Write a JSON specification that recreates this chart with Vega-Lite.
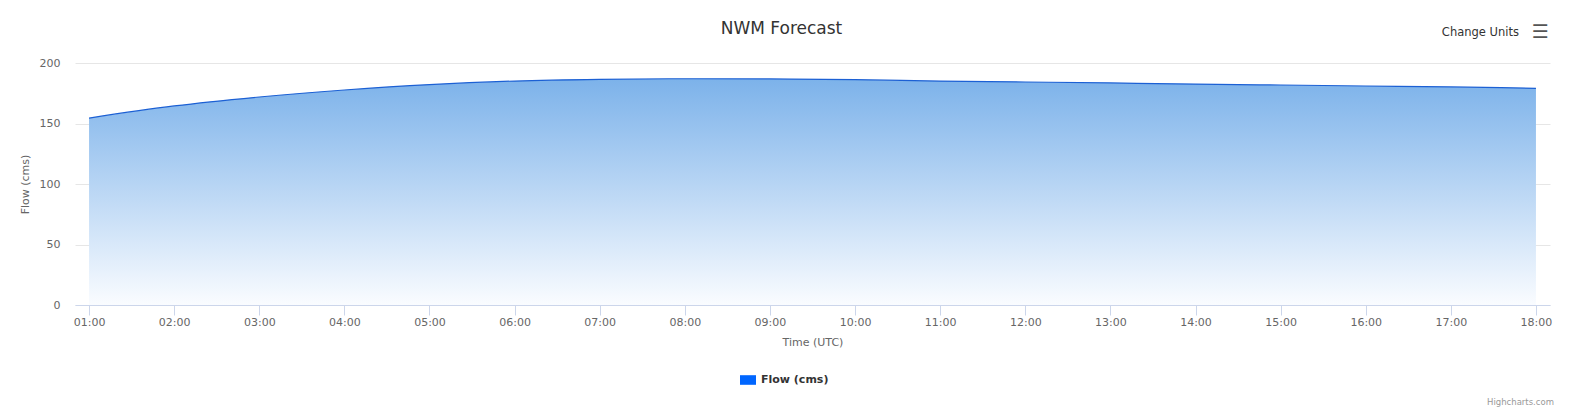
{
  "$schema": "https://vega.github.io/schema/vega-lite/v6.json",
  "autosize": "none",
  "width": 1475,
  "height": 242,
  "padding": {"left": 75, "top": 63, "right": 22, "bottom": 114},
  "background": "#ffffff",
  "title": {
    "text": "NWM Forecast",
    "font": "DejaVu Sans",
    "fontSize": 17,
    "fontWeight": "normal",
    "color": "#333333",
    "anchor": "middle",
    "dx": -31,
    "offset": -15
  },
  "config": {
    "view": {"stroke": null},
    "font": "DejaVu Sans"
  },
  "data": {
    "values": [
      {"time": "01:00", "flow": 154.5},
      {"time": "02:00", "flow": 164.5},
      {"time": "03:00", "flow": 171.9},
      {"time": "04:00", "flow": 177.7},
      {"time": "05:00", "flow": 182.2},
      {"time": "06:00", "flow": 185.1},
      {"time": "07:00", "flow": 186.5},
      {"time": "08:00", "flow": 187.0},
      {"time": "09:00", "flow": 186.8},
      {"time": "10:00", "flow": 186.2},
      {"time": "11:00", "flow": 185.1},
      {"time": "12:00", "flow": 184.3},
      {"time": "13:00", "flow": 183.5},
      {"time": "14:00", "flow": 182.6},
      {"time": "15:00", "flow": 181.8},
      {"time": "16:00", "flow": 181.0},
      {"time": "17:00", "flow": 180.2},
      {"time": "18:00", "flow": 179.1}
    ]
  },
  "encoding": {
    "x": {
      "field": "time",
      "type": "ordinal",
      "title": "Time (UTC)",
      "scale": {"type": "point", "padding": 0.165},
      "axis": {
        "labelAngle": 0,
        "grid": false,
        "domainColor": "#ccd6eb",
        "domainWidth": 1,
        "tickColor": "#ccd6eb",
        "tickSize": 10,
        "tickWidth": 1,
        "labelFont": "DejaVu Sans",
        "labelFontSize": 11,
        "labelColor": "#666666",
        "labelPadding": 1,
        "labelOverlap": false,
        "titleFont": "DejaVu Sans",
        "titleFontSize": 11,
        "titleFontWeight": "normal",
        "titleColor": "#666666",
        "titlePadding": 9
      }
    },
    "y": {
      "field": "flow",
      "type": "quantitative",
      "title": "Flow (cms)",
      "scale": {"domain": [0, 200], "nice": false},
      "axis": {
        "values": [0, 50, 100, 150, 200],
        "grid": true,
        "gridColor": "#e6e6e6",
        "gridWidth": 1,
        "domain": false,
        "ticks": false,
        "labelFont": "DejaVu Sans",
        "labelFontSize": 11,
        "labelColor": "#666666",
        "labelPadding": 15,
        "titleFont": "DejaVu Sans",
        "titleFontSize": 11,
        "titleFontWeight": "normal",
        "titleColor": "#666666",
        "titlePadding": 9
      }
    }
  },
  "layer": [
    {
      "mark": {
        "type": "area",
        "interpolate": "monotone",
        "color": {
          "gradient": "linear",
          "x1": 0, "y1": 0, "x2": 0, "y2": 1,
          "stops": [
            {"offset": 0, "color": "#7cb2ea"},
            {"offset": 1, "color": "#fafcff"}
          ]
        }
      }
    },
    {
      "mark": {"type": "line", "interpolate": "monotone", "color": "#1c60d4", "strokeWidth": 1.2}
    },
    {
      "mark": {"type": "square", "opacity": 0, "size": 1},
      "encoding": {
        "color": {
          "datum": "Flow (cms)",
          "type": "nominal",
          "scale": {"range": ["#0066ff"]},
          "legend": {
            "title": null,
            "orient": "none",
            "legendX": 665,
            "legendY": 309,
            "symbolType": "M-1,-0.6H1V0.6H-1Z",
            "symbolSize": 256,
            "symbolOpacity": 1,
            "symbolStrokeWidth": 0,
            "labelFont": "DejaVu Sans",
            "labelFontSize": 11,
            "labelFontWeight": "bold",
            "labelColor": "#333333",
            "labelOffset": 5
          }
        }
      }
    },
    {
      "transform": [{"filter": "datum.time == '18:00'"}],
      "mark": {"type": "text", "align": "right", "baseline": "middle", "font": "DejaVu Sans", "fontSize": 11.5, "color": "#333333", "dx": -17},
      "encoding": {
        "x": {"datum": "18:00", "type": "ordinal"},
        "y": {"datum": 225, "type": "quantitative"},
        "text": {"value": "Change Units"}
      }
    },
    {
      "transform": [{"filter": "datum.time == '18:00'"}],
      "mark": {"type": "text", "align": "center", "baseline": "middle", "font": "DejaVu Sans", "fontSize": 19, "fontWeight": "bold", "color": "#555555", "dx": 4},
      "encoding": {
        "x": {"datum": "18:00", "type": "ordinal"},
        "y": {"datum": 226, "type": "quantitative"},
        "text": {"value": "☰"}
      }
    },
    {
      "transform": [{"filter": "datum.time == '18:00'"}],
      "mark": {"type": "text", "align": "right", "baseline": "middle", "font": "DejaVu Sans", "fontSize": 8.5, "color": "#999999", "dx": 18},
      "encoding": {
        "x": {"datum": "18:00", "type": "ordinal"},
        "y": {"datum": -80, "type": "quantitative"},
        "text": {"value": "Highcharts.com"}
      }
    }
  ]
}
